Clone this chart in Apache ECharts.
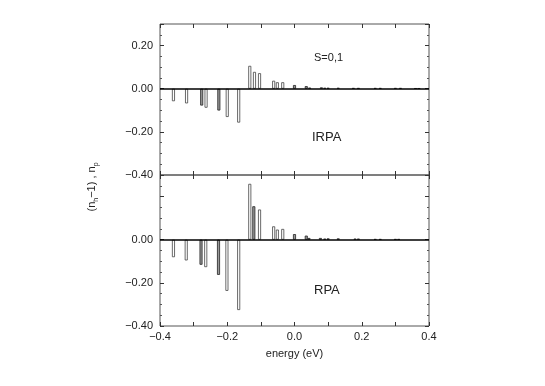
<!DOCTYPE html>
<html>
<head>
<meta charset="utf-8">
<script src="https://cdn.jsdelivr.net/npm/echarts@6/dist/echarts.min.js"></script>
<style>
  html, body { margin: 0; padding: 0; background: #fff; }
  #main { width: 545px; height: 386px; }
</style>
</head>
<body>
<div id="main"></div>
<script>
// IRPA panel (top)
var irpaOpenX = [-0.360, -0.321, -0.263, -0.200, -0.166, -0.133, -0.119, -0.104, -0.062, -0.051, -0.035]
var irpaOpenY = [-0.058, -0.068, -0.088, -0.131, -0.157, 0.106, 0.078, 0.072, 0.037, 0.030, 0.030]
var irpaFillX = [-0.276, -0.225, 0.000, 0.035, 0.045, 0.080, 0.090, 0.100, 0.130, 0.175, 0.190, 0.240, 0.255, 0.300, 0.315, 0.360, 0.370]
var irpaFillY = [-0.078, -0.101, 0.017, 0.012, 0.005, 0.006, 0.004, 0.004, 0.004, 0.003, 0.003, 0.003, 0.003, 0.003, 0.003, 0.002, 0.002]
// RPA panel (bottom)
var rpaOpenX = [-0.360, -0.322, -0.264, -0.201, -0.166, -0.133, -0.104, -0.062, -0.051, -0.035]
var rpaOpenY = [-0.081, -0.096, -0.127, -0.237, -0.326, 0.259, 0.140, 0.062, 0.047, 0.050]
var rpaFillX = [-0.278, -0.226, -0.121, 0.000, 0.035, 0.043, 0.077, 0.090, 0.100, 0.130, 0.180, 0.190, 0.240, 0.255, 0.300, 0.310]
var rpaFillY = [-0.116, -0.163, 0.155, 0.026, 0.019, 0.008, 0.008, 0.005, 0.006, 0.006, 0.005, 0.005, 0.003, 0.003, 0.003, 0.003]

var xTicks = [-0.4, -0.2, 0.0, 0.2, 0.4]
var yTicksTop = [-0.4, -0.2, 0.0, 0.2]
var yTicksBottom = [-0.4, -0.2, 0.0]

var font = 'Liberation Sans, Arial, sans-serif'
var frame = '#555'

function pairs(xs, ys) {
  return xs.map(function (x, i) { return [x, ys[i]] })
}
function fmt(v, d) {
  var s = Math.abs(v).toFixed(d)
  return (v < -1e-9 ? '\u2212' : '') + s
}
function has(list, v) {
  return list.some(function (t) { return Math.abs(t - v) < 1e-6 })
}

function xAxisFor(gi, pos, labels) {
  return {
    type: 'value', gridIndex: gi, position: pos, min: -0.4, max: 0.4, interval: 0.1,
    axisLine: { show: false, onZero: false },
    axisTick: { show: true, inside: true, length: 4, lineStyle: { color: '#333' } },
    splitLine: { show: false },
    axisLabel: {
      show: labels, margin: 5, fontFamily: font, fontSize: 11, color: '#222',
      formatter: function (v) { return has(xTicks, v) ? fmt(v, 1) : '' }
    },
    name: labels ? 'energy (eV)' : '', nameLocation: 'middle', nameGap: 22,
    nameTextStyle: { fontFamily: font, fontSize: 11, color: '#222' }
  }
}
function yAxisFor(gi, pos, ticks) {
  return {
    type: 'value', gridIndex: gi, position: pos, min: -0.4, max: 0.3, interval: 0.2,
    axisLine: { show: false, onZero: false },
    axisTick: { show: true, inside: true, length: 4, lineStyle: { color: '#333' } },
    minorTick: { show: true, splitNumber: 4, length: 2, lineStyle: { color: '#555' } },
    splitLine: { show: false },
    axisLabel: {
      show: pos === 'left', margin: 7, fontFamily: font, fontSize: 11, color: '#222',
      showMaxLabel: false,
      formatter: function (v) { return has(ticks, v) ? fmt(v, 2) : '' }
    }
  }
}
function barSeries(xi, yi, data, fill, border, zeroLine) {
  var s = {
    type: 'bar', xAxisIndex: xi, yAxisIndex: yi, data: data,
    barWidth: 3, barGap: '-100%',
    itemStyle: { color: fill, borderColor: border, borderWidth: 0.8 },
    silent: true, animation: false
  }
  if (zeroLine) {
    s.markLine = {
      silent: true, symbol: 'none', label: { show: false },
      lineStyle: { color: '#000', width: 1.5, type: 'solid' },
      data: [{ yAxis: 0 }]
    }
  }
  return s
}

var chart = echarts.init(document.getElementById('main'))
chart.setOption({
  backgroundColor: '#fff',
  animation: false,
  grid: [
    { left: 160, top: 24, width: 269, height: 151, show: true, borderColor: frame, borderWidth: 1 },
    { left: 160, top: 175, width: 269, height: 151, show: true, borderColor: frame, borderWidth: 1 }
  ],
  xAxis: [
    xAxisFor(0, 'bottom', false), xAxisFor(0, 'top', false),
    xAxisFor(1, 'bottom', true), xAxisFor(1, 'top', false)
  ],
  yAxis: [
    yAxisFor(0, 'left', yTicksTop), yAxisFor(0, 'right', yTicksTop),
    yAxisFor(1, 'left', yTicksBottom), yAxisFor(1, 'right', yTicksBottom)
  ],
  series: [
    barSeries(0, 0, pairs(irpaOpenX, irpaOpenY), '#fff', '#444', true),
    barSeries(0, 0, pairs(irpaFillX, irpaFillY), '#999', '#222', false),
    barSeries(2, 2, pairs(rpaOpenX, rpaOpenY), '#fff', '#444', true),
    barSeries(2, 2, pairs(rpaFillX, rpaFillY), '#999', '#222', false)
  ],
  graphic: [
    { type: 'text', left: 314, top: 52, style: { text: 'S=0,1', font: '11px ' + font, fill: '#222' } },
    { type: 'text', left: 312, top: 131, style: { text: 'IRPA', font: '13px ' + font, fill: '#222' } },
    { type: 'text', left: 314, top: 284, style: { text: 'RPA', font: '13px ' + font, fill: '#222' } },
    {
      type: 'text', x: 92, y: 187, rotation: Math.PI / 2,
      style: {
        text: '(n{sub|h}\u22121) , n{sub|p}',
        font: '11px ' + font, fill: '#222', align: 'center', verticalAlign: 'middle',
        rich: {
          sub: { fontSize: 7, fontFamily: font, fill: '#222', verticalAlign: 'bottom', lineHeight: 16 }
        }
      }
    }
  ]
})
</script>
</body>
</html>
